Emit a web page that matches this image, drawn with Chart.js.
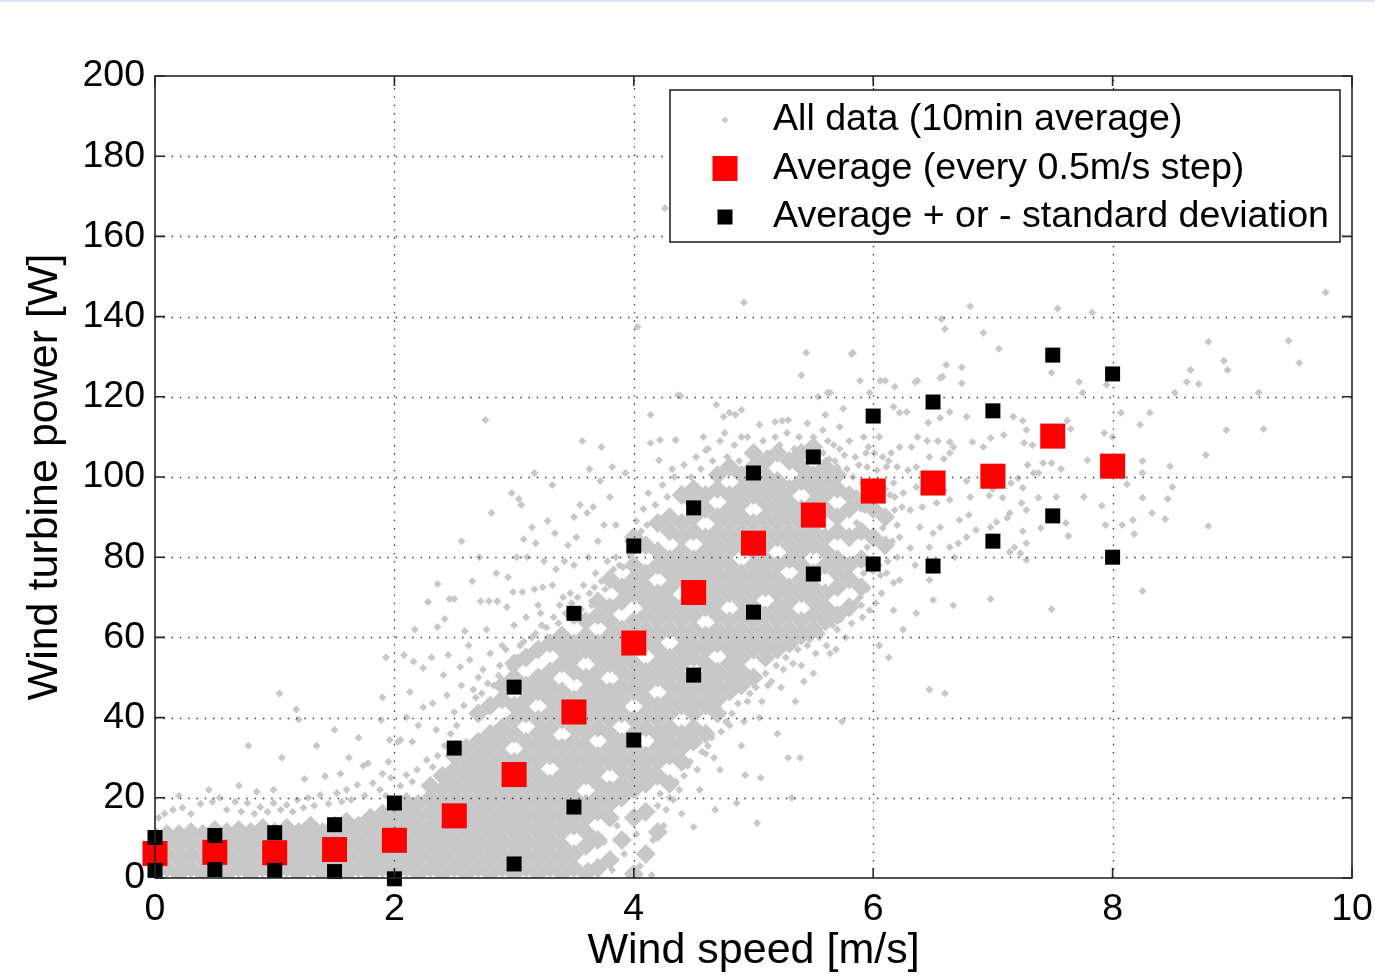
<!DOCTYPE html>
<html>
<head>
<meta charset="utf-8">
<title>Wind turbine power vs wind speed</title>
<script src="https://cdn.jsdelivr.net/npm/chart.js@4.4.1/dist/chart.umd.min.js"></script>
<style>
  html, body { margin: 0; padding: 0; background: #fff; }
  #wrap { position: relative; width: 1375px; height: 978px; }
  #topline { position: absolute; left: 0; top: 0; width: 1375px; height: 2px; background: #d9e6f3; }
</style>
</head>
<body>
<div id="wrap"><canvas id="powerChart" width="1375" height="978"></canvas><div id="topline"></div></div>
<script>
// 0.5 m/s bins: average and average +/- one standard deviation
const binSpeed = [0, 0.5, 1, 1.5, 2, 2.5, 3, 3.5, 4, 4.5, 5, 5.5, 6, 6.5, 7, 7.5, 8];
const binMean  = [6.1, 6.4, 6.3, 7.1, 9.4, 15.5, 25.8, 41.4, 58.6, 71.2, 83.5, 90.5, 96.5, 98.5, 100.2, 110.2, 102.7];
const binUpper = [10.1, 10.6, 11.3, 13.3, 18.7, 32.4, 47.6, 66, 82.8, 92.3, 101, 105, 115.2, 118.7, 116.5, 130.4, 125.7];
const binLower = [1.9, 2.1, 1.9, 1.6, -0.2, null, 3.5, 17.7, 34.4, 50.6, 66.3, 75.8, 78.3, 77.8, 84, 90.3, 80];

// thick part of the 10 min cloud, as [speed, [powers]] columns
const cloudBand = [
  [0.0, [1, 4.5, 8, 10.5]],
  [0.1, [2.5, 6, 9.5, 11]],
  [0.2, [1, 4.5, 8, 11]],
  [0.3, [2.5, 6, 9, 11.5]],
  [0.4, [1, 4.5, 8, 11]],
  [0.5, [2.5, 6, 9.5, 12]],
  [0.6, [1, 4.5, 8, 11.5]],
  [0.7, [2.5, 6, 9.5, 12]],
  [0.8, [1, 4.5, 8, 11.5]],
  [0.9, [2.5, 6, 9.5, 12.5]],
  [1.0, [1, 4.5, 8, 11.5]],
  [1.1, [2.5, 6, 9.5, 12.5]],
  [1.2, [1, 4.5, 8, 11.5]],
  [1.3, [2.5, 6, 9.5, 13]],
  [1.4, [1, 4.5, 8, 11.5]],
  [1.5, [2.5, 6, 9.5, 13]],
  [1.6, [1, 4.5, 8, 11.5, 14]],
  [1.7, [2.5, 6, 9.5, 13]],
  [1.8, [1, 4.5, 8, 11.5, 15]],
  [1.9, [2.5, 6, 9.5, 13, 16]],
  [2.0, [1, 4.5, 8, 11.5, 15]],
  [2.1, [2.5, 6, 9.5, 13, 16.5, 19]],
  [2.2, [1, 4.5, 8, 11.5, 15, 18.5]],
  [2.3, [2.5, 6, 9.5, 13, 16.5, 20, 23]],
  [2.4, [1, 4.5, 8, 11.5, 15, 18.5, 22, 25.5]],
  [2.5, [2.5, 6, 9.5, 13, 16.5, 20, 23.5, 27, 30.5]],
  [2.6, [1, 4.5, 8, 11.5, 15, 18.5, 22, 25.5, 29, 32.5]],
  [2.7, [2.5, 6, 9.5, 13, 16.5, 20, 23.5, 27, 30.5, 34, 41]],
  [2.8, [1, 4.5, 8, 11.5, 15, 18.5, 22, 25.5, 29, 32.5, 36, 43]],
  [2.9, [2.5, 6, 9.5, 13, 16.5, 20, 23.5, 27, 30.5, 34, 37.5, 44.5, 48]],
  [3.0, [1, 4.5, 8, 11.5, 15, 18.5, 22, 25.5, 29, 36, 39.5, 43, 50, 53.5]],
  [3.1, [2.5, 6, 9.5, 13, 16.5, 20, 23.5, 27, 30.5, 34, 41, 44.5, 48, 55]],
  [3.2, [1, 4.5, 8, 11.5, 15, 18.5, 22, 25.5, 29, 32.5, 36, 39.5, 46.5, 50, 57]],
  [3.3, [2.5, 6, 9.5, 13, 16.5, 20, 23.5, 30.5, 34, 37.5, 41, 44.5, 48, 51.5, 58.5]],
  [3.4, [1, 4.5, 8, 11.5, 15, 18.5, 22, 25.5, 29, 32.5, 39.5, 43, 46.5, 53.5, 57, 60.5]],
  [3.5, [2.5, 6, 13, 16.5, 20, 23.5, 27, 30.5, 34, 37.5, 41, 44.5, 51.5, 55, 58.5, 65.5]],
  [3.6, [1, 8, 11.5, 15, 18.5, 25.5, 29, 32.5, 36, 39.5, 43, 46.5, 50, 57, 60.5, 64]],
  [3.7, [2.5, 9.5, 16.5, 20, 23.5, 27, 30.5, 37.5, 41, 44.5, 48, 51.5, 55, 58.5, 65.5, 69]],
  [3.8, [4.5, 15, 18.5, 22, 29, 32.5, 36, 39.5, 43, 46.5, 53.5, 57, 60.5, 64, 67.5, 74.5]],
  [3.9, [9.5, 20, 23.5, 27, 30.5, 34, 41, 44.5, 48, 51.5, 55, 58.5, 62, 69, 72.5]],
  [4.0, [1, 15, 22, 25.5, 29, 32.5, 36, 39.5, 46.5, 50, 53.5, 57, 60.5, 64, 71, 74.5, 78, 85]],
  [4.1, [6, 16.5, 23.5, 27, 30.5, 37.5, 41, 44.5, 48, 51.5, 58.5, 62, 65.5, 69, 72.5, 76, 83]],
  [4.2, [11.5, 25.5, 29, 32.5, 36, 39.5, 43, 50, 53.5, 57, 60.5, 64, 67.5, 71, 78, 81.5, 88.5]],
  [4.3, [23.5, 30.5, 34, 37.5, 41, 44.5, 48, 51.5, 55, 62, 65.5, 69, 72.5, 76, 79.5, 86.5, 90]],
  [4.4, [29, 32.5, 36, 43, 46.5, 50, 53.5, 57, 60.5, 64, 67.5, 74.5, 78, 81.5, 85, 88.5, 95.5]],
  [4.5, [34, 37.5, 41, 44.5, 48, 55, 58.5, 62, 65.5, 69, 72.5, 76, 79.5, 86.5, 90, 93.5, 97]],
  [4.6, [36, 43, 46.5, 50, 53.5, 57, 60.5, 67.5, 71, 74.5, 78, 81.5, 85, 92, 95.5]],
  [4.7, [41, 44.5, 48, 51.5, 58.5, 62, 65.5, 69, 72.5, 76, 79.5, 83, 86.5, 90, 97, 100.5]],
  [4.8, [46.5, 50, 53.5, 57, 60.5, 64, 71, 74.5, 78, 81.5, 85, 88.5, 92, 95.5, 102.5]],
  [4.9, [48, 51.5, 55, 58.5, 62, 65.5, 69, 72.5, 76, 83, 86.5, 90, 93.5, 97, 100.5]],
  [5.0, [50, 57, 60.5, 64, 67.5, 71, 74.5, 78, 81.5, 85, 88.5, 95.5, 99, 102.5, 106]],
  [5.1, [55, 58.5, 62, 65.5, 72.5, 76, 79.5, 83, 86.5, 90, 93.5, 97, 100.5, 104]],
  [5.2, [57, 60.5, 64, 67.5, 71, 74.5, 78, 85, 88.5, 92, 95.5, 99, 106]],
  [5.3, [58.5, 62, 65.5, 69, 72.5, 79.5, 83, 86.5, 90, 93.5, 97, 104]],
  [5.4, [60.5, 64, 71, 74.5, 78, 81.5, 85, 88.5, 92, 99, 102.5, 106]],
  [5.5, [62, 65.5, 69, 72.5, 76, 83, 86.5, 90, 93.5, 97, 100.5, 107.5]],
  [5.6, [64, 67.5, 71, 78, 81.5, 85, 92, 95.5, 99, 102.5]],
  [5.7, [65.5, 72.5, 76, 79.5, 86.5, 90, 97, 100.5]],
  [5.8, [67.5, 74.5, 78, 85, 92, 95.5]],
  [5.9, [72.5, 79.5, 86.5, 93.5]],
  [6.0, [78, 85, 92]],
  [6.1, [83, 90]]
];

// single 10 min points around the edges of the cloud
const cloudLowEdge = [
  [0.03, 15], [0.08, 16], [0.15, 17], [0.2, 20.5], [0.23, 17.5], [0.3, 16], [0.38, 18.5], [0.45, 22],
  [0.48, 19], [0.54, 20], [0.6, 17], [0.67, 19], [0.7, 23], [0.72, 16.5], [0.77, 18.7], [0.83, 16],
  [0.85, 21.5], [0.88, 17.7], [0.94, 16.5], [0.99, 18.7], [0.99, 22], [1.05, 17], [1.1, 18.2], [1.15, 16.5],
  [1.19, 19.5], [1.24, 17.5], [1.25, 24.7], [1.28, 20], [1.33, 18], [1.38, 20.7], [1.42, 25.4], [1.45, 18.5],
  [1.52, 21.2], [1.55, 26], [1.56, 19], [1.6, 22], [1.64, 19.5], [1.69, 23.2], [1.74, 28], [1.75, 20.5],
  [1.78, 28.6], [1.82, 23.7], [1.88, 22], [1.9, 26], [1.93, 20.5], [1.95, 29], [1.97, 25], [2.03, 34],
  [2.05, 23], [2.1, 25.7], [2.15, 24], [2.19, 27], [2.27, 29.4], [2.32, 27.7], [2.36, 30.5], [2.42, 33],
  [2.47, 36], [1.06, 30], [1.62, 30], [0.78, 33], [1.04, 46], [1.18, 42], [1.2, 39.5], [1.35, 33],
  [1.5, 37], [1.7, 35]
];

const cloudUpperLeft = [
  [1.89, 39.4], [1.9, 45], [1.93, 55], [1.96, 34.4], [2.05, 34.4], [2.08, 55.6], [2.1, 40], [2.13, 46.4],
  [2.15, 34], [2.16, 54], [2.17, 62], [2.2, 38], [2.24, 42.6], [2.24, 52.4], [2.28, 68.8], [2.31, 55],
  [2.32, 43.6], [2.35, 37], [2.36, 62.6], [2.36, 73.3], [2.41, 50.6], [2.42, 64.6], [2.44, 45.6], [2.45, 55.6],
  [2.46, 69.6], [2.5, 41.4], [2.5, 69.6], [2.55, 52.6], [2.56, 48], [2.56, 84], [2.59, 61.6], [2.62, 58],
  [2.63, 54.4], [2.65, 74], [2.66, 47], [2.7, 50], [2.71, 80], [2.72, 69], [2.76, 114.2], [2.77, 62],
  [2.79, 69], [2.8, 56], [2.81, 91], [2.85, 76], [2.86, 69], [2.9, 58], [2.94, 67.6], [2.95, 75],
  [2.98, 96], [2.99, 71.3], [3.0, 63], [3.02, 80], [3.04, 94.5], [3.06, 93], [3.07, 71.3], [3.08, 84.5],
  [3.1, 65], [3.11, 80], [3.15, 87.5], [3.17, 72], [3.17, 101], [3.18, 83.5], [3.2, 68], [3.24, 72.5],
  [3.25, 79], [3.28, 89], [3.32, 73], [3.32, 98], [3.34, 86], [3.35, 77], [3.42, 79], [3.45, 83],
  [3.5, 78], [3.5, 90], [3.52, 85], [3.55, 93], [3.57, 109], [3.61, 91], [3.62, 80], [3.63, 102],
  [3.66, 92.5], [3.7, 84], [3.72, 99], [3.73, 107.5], [3.75, 88], [3.8, 95], [3.82, 102.5], [3.85, 88],
  [3.93, 101], [2.52, 38], [2.58, 43], [2.68, 45], [2.74, 52], [2.83, 48], [2.88, 53], [2.93, 57],
  [3.03, 55], [3.08, 59], [3.13, 56], [3.18, 61], [3.23, 63], [3.28, 60], [3.33, 65], [3.38, 68],
  [3.43, 66], [3.47, 71], [3.53, 70], [3.58, 73], [3.63, 71], [3.68, 76], [3.73, 74], [3.78, 79], [3.83, 77],
  [2.73, 46], [2.78, 48.5], [2.87, 50.5], [2.97, 52.5], [3.05, 58], [3.15, 60], [3.22, 66], [3.27, 62.5],
  [3.37, 63.5], [3.41, 70], [3.48, 68.5], [3.56, 67], [3.65, 68], [3.67, 72.5], [3.76, 72], [3.85, 80],
  [3.91, 77.5], [3.97, 80.5], [4.06, 86.5], [4.11, 88]
];

const cloudBandEdge = [
  [3.88, 78], [3.95, 84], [4.02, 89], [4.08, 92], [4.12, 96], [4.14, 108.5], [4.14, 115.5], [4.18, 93],
  [4.21, 104.2], [4.22, 109.2], [4.24, 98], [4.28, 95], [4.32, 102], [4.34, 100], [4.35, 109.2], [4.37, 120.4],
  [4.39, 120.2], [4.4, 97], [4.42, 103], [4.48, 100], [4.52, 105], [4.56, 102], [4.58, 110], [4.6, 106.7],
  [4.62, 107], [4.66, 104], [4.69, 118], [4.72, 109], [4.75, 115], [4.76, 111], [4.78, 105], [4.8, 116],
  [4.84, 108], [4.85, 115.5], [4.88, 104], [4.9, 116.7], [4.9, 110], [4.95, 110], [5.0, 107], [5.05, 113],
  [5.08, 109], [5.12, 106], [5.18, 113.7], [5.18, 110], [5.22, 108], [5.24, 114], [5.28, 111], [5.29, 114.2],
  [5.34, 107], [5.38, 110], [5.45, 113.4], [5.45, 107], [5.5, 110], [5.58, 111.7], [5.58, 106], [5.6, 115.5],
  [5.62, 121], [5.62, 109], [5.68, 104], [5.72, 112.5], [5.72, 107], [5.75, 117], [5.78, 102], [5.85, 105],
  [5.63, 104.5], [5.67, 108], [5.7, 102.5], [5.76, 105.5], [5.8, 109], [5.83, 100], [5.88, 103], [5.91, 98.5],
  [5.94, 106], [5.98, 96], [6.03, 99], [6.05, 110], [6.1, 97], [6.13, 104], [6.18, 95],
  [3.62, 3], [3.7, 1], [3.75, 9], [3.82, 2], [3.86, 13], [3.92, 6], [3.97, 1.5], [4.02, 11],
  [4.05, 3], [4.1, 15], [4.15, 0.7], [4.16, 9.5], [4.2, 18], [4.25, 13], [4.3, 20], [4.35, 24],
  [4.4, 16], [4.5, 12.7], [4.45, 28], [4.55, 22], [4.6, 31], [4.68, 17], [4.65, 35], [4.72, 27],
  [4.8, 38], [4.86, 18.7], [4.93, 25.7], [4.9, 33], [4.95, 44], [5.03, 13.7], [5.06, 25], [5.05, 40],
  [5.12, 48], [5.2, 36], [5.25, 52], [5.29, 30], [5.32, 20], [5.39, 30], [5.35, 44], [5.4, 53],
  [5.45, 58], [5.5, 51], [5.55, 60], [5.64, 56], [5.74, 39], [5.7, 62], [5.8, 66], [5.9, 68], [6.13, 55],
  [4.22, 21], [4.27, 17], [4.33, 19.5], [4.38, 22], [4.42, 25.5], [4.47, 29], [4.53, 27], [4.57, 31.5],
  [4.62, 33], [4.67, 30], [4.73, 36.5], [4.77, 39], [4.82, 41], [4.87, 43.5], [4.92, 39], [4.97, 46],
  [5.02, 47.5], [5.07, 44], [5.1, 51], [5.15, 49], [5.19, 53], [5.23, 47.5], [5.27, 55], [5.33, 53.5],
  [5.37, 57], [5.42, 49], [5.47, 59.5], [5.52, 56], [5.57, 61], [5.61, 58], [5.66, 63], [5.69, 57],
  [5.73, 64.5], [5.77, 60], [5.82, 63.5], [5.86, 69], [5.91, 65], [5.95, 72], [6.02, 68.5], [6.06, 75.5],
  [6.12, 79], [6.16, 84], [6.2, 88], [6.24, 92.5], [6.14, 95.5]
];

const cloudTail = [
  [4.26, 167], [4.92, 143.5], [4.03, 137.4], [5.44, 131], [5.4, 125.4], [5.54, 120], [5.64, 121], [5.83, 131],
  [5.82, 130.7], [5.89, 124], [5.97, 121], [6.06, 124], [6.1, 124], [6.18, 122.5], [6.35, 123.7], [6.37, 124],
  [6.56, 124.7], [6.58, 125], [6.61, 128], [6.74, 127.4], [6.74, 123.4], [6.17, 117.5], [6.22, 116], [6.28, 116.2],
  [6.46, 113.5], [6.56, 114.7], [6.64, 116.2], [6.78, 115], [5.92, 110], [5.96, 107.5], [6.01, 106], [6.08, 105],
  [6.15, 106], [6.22, 107.5], [6.32, 107.5], [6.37, 110], [6.45, 109], [6.54, 109], [6.64, 108.7], [6.67, 107.5],
  [6.64, 106], [6.59, 104.5], [6.47, 105], [6.36, 102.5], [6.29, 101.7], [6.2, 102.5], [6.11, 102.5], [6.03, 101.7],
  [5.95, 102.5], [5.86, 96], [6.06, 96], [6.17, 98.5], [6.25, 96], [6.36, 97.5], [6.45, 98.5], [6.59, 96.7],
  [6.64, 94.3], [6.53, 93.5], [6.41, 92.5], [6.31, 91.8], [6.18, 91.8], [6.07, 91], [5.93, 91.8], [5.86, 88.5],
  [6.08, 87.3], [6.22, 85], [6.39, 87.5], [6.5, 86], [6.56, 87.5], [6.64, 82.5], [6.47, 82.5], [6.31, 82.3],
  [6.2, 80], [6.08, 82.3], [5.95, 82.5], [5.83, 79.3], [5.92, 76], [6.11, 76], [6.17, 73.6], [6.22, 74.3],
  [6.07, 71], [5.89, 70], [5.97, 66.8], [6.17, 66.8], [6.36, 66], [6.5, 69.3], [6.47, 74.3], [6.67, 68],
  [6.68, 80], [6.5, 78.5], [6.35, 78], [6.47, 47], [6.6, 46], [6.05, 58], [6.25, 62],
  [6.81, 142.6], [7.54, 142], [7.83, 141], [6.57, 139.4], [6.6, 136.9], [6.92, 136], [7.05, 132], [8.8, 133.7],
  [9.47, 134], [9.56, 128.4], [8.93, 129], [8.96, 126.7], [8.65, 126.7], [8.62, 123.7], [8.72, 123.2], [8.52, 121],
  [9.22, 121], [8.95, 111.7], [9.26, 112], [8.78, 105.5], [8.8, 87.8], [8.25, 71.6], [7.49, 67], [6.98, 69.6],
  [9.78, 146], [7.49, 126], [7.72, 123.7], [7.75, 121], [7.95, 123], [8.07, 116], [8.31, 116], [8.23, 113],
  [7.93, 111], [8.0, 110], [8.25, 104], [8.25, 101], [8.48, 102.7], [8.5, 97.5], [8.46, 94.5], [8.25, 94.8],
  [8.33, 91], [8.44, 89.5], [8.17, 89.3], [8.08, 88], [7.94, 88], [8.18, 85.8], [7.91, 92.8], [8.12, 98.2],
  [7.79, 104.2], [7.17, 115], [7.25, 114], [7.28, 111.7], [7.62, 114], [7.65, 112], [7.26, 108.5], [7.33, 108],
  [7.42, 103.5], [7.38, 101], [7.29, 103], [7.34, 101], [7.49, 103.5], [7.57, 102], [7.53, 95], [7.38, 94.8],
  [7.76, 95], [7.61, 88.5], [7.63, 85.3], [7.4, 87.3], [7.25, 86.5], [7.28, 83.5], [7.14, 91], [7.12, 89.8],
  [7.24, 93.5], [7.28, 91.8], [6.83, 108.7], [6.92, 107.5], [6.98, 109.7], [7.09, 110.5], [7.0, 97], [7.08, 94.8],
  [6.97, 95.3], [7.21, 99.7], [7.15, 98.5], [7.25, 97.3], [6.78, 99], [6.81, 95], [6.8, 90.5], [6.72, 89.3],
  [6.98, 87.5], [7.03, 88.8], [6.86, 86.8], [6.78, 85], [6.71, 83.5], [7.18, 82.5], [7.23, 81], [7.14, 81.3], [7.28, 79.3]
];

const FONT = '"Liberation Sans", Arial, Helvetica, sans-serif';
const GREY = '#c8c8c8';
Chart.defaults.font.family = FONT;
Chart.defaults.color = '#000';

const toXY = (list) => list.map(([x, y]) => ({ x, y }));
const bandPoints = cloudBand.flatMap(([x, ys]) => ys.map((y) => ({ x, y })));
const singlePoints = toXY([...cloudLowEdge, ...cloudUpperLeft, ...cloudBandEdge, ...cloudTail]);
const binPoints = (values) => binSpeed.map((x, i) => ({ x, y: values[i] }));

// dotted grid goes over the grey cloud but under the bin markers
function drawGrid(chart) {
  const { ctx, chartArea: a, scales } = chart;
  ctx.save();
  ctx.strokeStyle = '#333';
  ctx.lineWidth = 1.3;
  ctx.setLineDash([1.4, 6.9]);
  scales.x.ticks.forEach((t) => {
    if (t.value <= scales.x.min || t.value >= scales.x.max) return;
    const px = Math.round(scales.x.getPixelForValue(t.value)) + 0.5;
    ctx.beginPath();
    ctx.moveTo(px, a.bottom);
    ctx.lineTo(px, a.top);
    ctx.stroke();
  });
  scales.y.ticks.forEach((t) => {
    if (t.value <= scales.y.min || t.value >= scales.y.max) return;
    const py = Math.round(scales.y.getPixelForValue(t.value)) + 0.5;
    ctx.beginPath();
    ctx.moveTo(a.left, py);
    ctx.lineTo(a.right, py);
    ctx.stroke();
  });
  ctx.restore();
}

const gridPlugin = {
  id: 'dottedGrid',
  beforeDatasetDraw(chart, args) {
    if (chart.data.datasets[args.index].isMean) drawGrid(chart);
  },
};

// axes box with inward tick marks on all four sides
const framePlugin = {
  id: 'frame',
  afterDatasetsDraw(chart) {
    const { ctx, chartArea: a, scales } = chart;
    const len = 10;
    ctx.save();
    ctx.strokeStyle = '#262626';
    ctx.lineWidth = 1.6;
    ctx.strokeRect(a.left, a.top, a.right - a.left, a.bottom - a.top);
    ctx.beginPath();
    scales.x.ticks.forEach((t) => {
      const px = scales.x.getPixelForValue(t.value);
      ctx.moveTo(px, a.bottom);
      ctx.lineTo(px, a.bottom - len);
      ctx.moveTo(px, a.top);
      ctx.lineTo(px, a.top + len);
    });
    scales.y.ticks.forEach((t) => {
      const py = scales.y.getPixelForValue(t.value);
      ctx.moveTo(a.left, py);
      ctx.lineTo(a.left + len, py);
      ctx.moveTo(a.right, py);
      ctx.lineTo(a.right - len, py);
    });
    ctx.stroke();
    ctx.restore();
  },
};

const legendItems = [
  { text: 'All data (10min average)', style: 'diamond', size: 3.5, color: GREY },
  { text: 'Average (every 0.5m/s step)', style: 'square', size: 25, color: '#ff0000' },
  { text: 'Average + or - standard deviation', style: 'square', size: 15, color: '#000' },
];

const legendPlugin = {
  id: 'boxLegend',
  afterDraw(chart) {
    const { ctx, chartArea: a } = chart;
    const w = 670, h = 152;
    const left = a.right - 12 - w, top = a.top + 14;
    ctx.save();
    ctx.fillStyle = '#fff';
    ctx.fillRect(left, top, w, h);
    ctx.strokeStyle = '#262626';
    ctx.lineWidth = 1.6;
    ctx.strokeRect(left, top, w, h);
    ctx.font = '37.6px ' + FONT;
    ctx.textBaseline = 'middle';
    legendItems.forEach((item, i) => {
      const cy = top + 30 + i * 48.5;
      const cx = left + 55;
      ctx.fillStyle = item.color;
      if (item.style === 'diamond') {
        ctx.beginPath();
        ctx.moveTo(cx, cy - item.size);
        ctx.lineTo(cx + item.size, cy);
        ctx.lineTo(cx, cy + item.size);
        ctx.lineTo(cx - item.size, cy);
        ctx.closePath();
        ctx.fill();
      } else {
        ctx.fillRect(cx - item.size / 2, cy - item.size / 2, item.size, item.size);
      }
      ctx.fillStyle = '#000';
      ctx.fillText(item.text, left + 103, cy);
    });
    ctx.restore();
  },
};

new Chart(document.getElementById('powerChart'), {
  type: 'scatter',
  data: {
    datasets: [
      {
        label: 'Average + standard deviation',
        data: binPoints(binUpper),
        pointStyle: 'rect',
        pointRadius: 10.6,
        pointBorderWidth: 0,
        backgroundColor: '#000',
        order: 1,
        clip: false,
      },
      {
        label: 'Average - standard deviation',
        data: binPoints(binLower),
        pointStyle: 'rect',
        pointRadius: 10.6,
        pointBorderWidth: 0,
        backgroundColor: '#000',
        order: 1,
        clip: false,
      },
      {
        label: 'Average (every 0.5m/s step)',
        data: binPoints(binMean),
        pointStyle: 'rect',
        pointRadius: 17.7,
        pointBorderWidth: 0,
        backgroundColor: '#ff0000',
        order: 2,
        clip: false,
        isMean: true,
      },
      {
        label: 'All data (10min average)',
        data: singlePoints,
        pointStyle: 'rectRot',
        pointRadius: 4,
        pointBorderWidth: 0,
        backgroundColor: GREY,
        order: 3,
      },
      {
        label: 'All data (dense part)',
        data: bandPoints,
        pointStyle: 'rectRot',
        pointRadius: 10,
        pointBorderWidth: 0,
        backgroundColor: GREY,
        order: 3,
      },
    ],
  },
  options: {
    responsive: false,
    animation: false,
    events: [],
    layout: { padding: { top: 76, right: 23, left: 0, bottom: 0 } },
    plugins: {
      legend: { display: false },
      tooltip: { enabled: false },
    },
    scales: {
      x: {
        type: 'linear',
        min: 0,
        max: 10,
        ticks: { stepSize: 2, padding: 9, maxRotation: 0, color: '#000', font: { size: 37.5 } },
        grid: { display: false, drawTicks: false },
        border: { display: false },
        title: {
          display: true,
          text: 'Wind speed [m/s]',
          color: '#000',
          font: { size: 43 },
          padding: { top: 0, bottom: 1 },
        },
        afterFit(scale) {
          scale.height = 100;
          scale.paddingLeft = 0;
          scale.paddingRight = 0;
        },
      },
      y: {
        type: 'linear',
        min: 0,
        max: 200,
        ticks: { stepSize: 20, padding: 10, color: '#000', font: { size: 37.5 } },
        grid: { display: false, drawTicks: false },
        border: { display: false },
        title: {
          display: true,
          text: 'Wind turbine power [W]',
          color: '#000',
          font: { size: 43 },
          padding: { top: 19, bottom: 0 },
        },
        afterFit(scale) {
          scale.width = 155;
          scale.paddingTop = 0;
          scale.paddingBottom = 0;
        },
      },
    },
  },
  plugins: [gridPlugin, framePlugin, legendPlugin],
});
</script>
</body>
</html>
